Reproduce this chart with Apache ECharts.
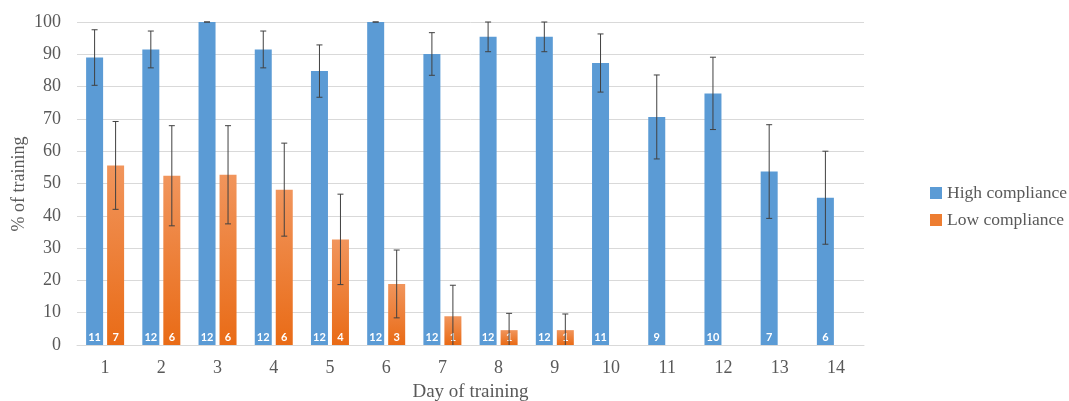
<!DOCTYPE html>
<html>
<head>
<meta charset="utf-8">
<script src="https://cdn.jsdelivr.net/npm/echarts@6/dist/echarts.min.js"></script>
<style>
html,body{margin:0;padding:0;background:#fff;}
#chart{width:1069px;height:401px;}
</style>
</head>
<body>
<div id="chart"></div>
<script>
var days = ['1','2','3','4','5','6','7','8','9','10','11','12','13','14'];
var highValues = [89.0, 91.5, 100, 91.5, 84.8, 100, 90.1, 95.4, 95.4, 87.3, 70.6, 77.9, 53.7, 45.6];
var highErrors = [8.6, 5.7, 0, 5.7, 8.1, 0, 6.6, 4.6, 4.6, 9.0, 13.0, 11.2, 14.5, 14.4];
var highN = [11, 12, 12, 12, 12, 12, 12, 12, 12, 11, 9, 10, 7, 6];
var lowValues = [55.6, 52.4, 52.7, 48.1, 32.7, 18.9, 8.9, 4.6, 4.6, null, null, null, null, null];
var lowErrors = [13.6, 15.5, 15.2, 14.4, 14.0, 10.5, 9.6, 5.2, 5.0, null, null, null, null, null];
var lowN = [7, 6, 6, 6, 4, 3, 1, 1, 1, null, null, null, null, null];
var yTicks = {min: 0, max: 100, interval: 10};
var yAxisTitle = '% of training';
var xAxisTitle = 'Day of training';

var BAR_W = 17, BAR_GAP = 4;
var OFFSET = (BAR_W + BAR_GAP) / 2;
var SERIF = '"Liberation Serif", "Times New Roman", serif';
var TXT = '#595959';

function errData(vals, errs) {
  var out = [];
  for (var i = 0; i < vals.length; i++) {
    if (vals[i] == null) continue;
    out.push([i, vals[i], errs[i]]);
  }
  return out;
}
function makeErr(dx) {
  return function (params, api) {
    var x = api.value(0), v = api.value(1), e = api.value(2);
    var hi = Math.min(yTicks.max, v + e), lo = Math.max(yTicks.min, v - e);
    var pHi = api.coord([x, hi]), pLo = api.coord([x, lo]);
    var cx = pHi[0] + dx, cap = 3;
    var style = {stroke: '#404040', lineWidth: 1};
    var children = [
      {type: 'line', shape: {x1: cx, y1: pHi[1], x2: cx, y2: pLo[1]}, style: style},
      {type: 'line', shape: {x1: cx - cap, y1: pHi[1], x2: cx + cap, y2: pHi[1]}, style: style}
    ];
    if (lo > yTicks.min) children.push({type: 'line', shape: {x1: cx - cap, y1: pLo[1], x2: cx + cap, y2: pLo[1]}, style: style});
    return {type: 'group', children: children};
  };
}
function countLabel(arr) {
  return {
    show: true, position: 'insideBottom', distance: 2,
    color: '#fff', fontWeight: 'bold', fontSize: 11, fontFamily: 'Lato, "Open Sans", sans-serif',
    formatter: function (p) { return arr[p.dataIndex] == null ? '' : String(arr[p.dataIndex]); }
  };
}

var chart = echarts.init(document.getElementById('chart'));
chart.setOption({
  animation: false,
  backgroundColor: '#fff',
  grid: {left: 77, right: 205, top: 22, bottom: 56, outerBoundsMode: 'none', containLabel: false},
  graphic: [{
    type: 'text', x: 19, y: 184, rotation: Math.PI / 2,
    style: {text: yAxisTitle, fill: TXT, font: '18px ' + SERIF, textAlign: 'center', textVerticalAlign: 'middle'}
  }],
  legend: {
    orient: 'vertical', left: 925, top: 179, itemWidth: 12, itemHeight: 12, itemGap: 9,
    icon: 'rect',
    data: [
      {name: 'High compliance', itemStyle: {color: '#5b9bd5'}},
      {name: 'Low compliance', itemStyle: {color: '#ed7d31'}}
    ],
    textStyle: {fontFamily: SERIF, fontSize: 17.5, color: TXT}
  },
  xAxis: {
    type: 'category', data: days,
    name: xAxisTitle, nameLocation: 'middle', nameGap: 38,
    nameTextStyle: {fontFamily: SERIF, fontSize: 19, color: TXT},
    axisLine: {lineStyle: {color: '#d9d9d9'}},
    axisTick: {show: false},
    axisLabel: {fontFamily: SERIF, fontSize: 18, color: TXT, margin: 14}
  },
  yAxis: {
    type: 'value', min: yTicks.min, max: yTicks.max, interval: yTicks.interval,
    axisLine: {show: false}, axisTick: {show: false},
    axisLabel: {fontFamily: SERIF, fontSize: 18, color: TXT, margin: 16},
    splitLine: {lineStyle: {color: '#d9d9d9'}}
  },
  series: [
    {
      name: 'High compliance', type: 'bar', data: highValues,
      barWidth: BAR_W, barGap: (BAR_GAP / BAR_W * 100) + '%',
      itemStyle: {color: '#5b9bd5'},
      label: countLabel(highN)
    },
    {
      name: 'Low compliance', type: 'bar', data: lowValues,
      barWidth: BAR_W,
      itemStyle: {color: new echarts.graphic.LinearGradient(0, 0, 0, 1, [
        {offset: 0, color: '#f1955c'}, {offset: 1, color: '#e96b16'}])},
      label: countLabel(lowN)
    },
    {
      type: 'custom', name: 'errHigh', data: errData(highValues, highErrors),
      renderItem: makeErr(-OFFSET), z: 10, silent: true
    },
    {
      type: 'custom', name: 'errLow', data: errData(lowValues, lowErrors),
      renderItem: makeErr(OFFSET), z: 10, silent: true
    }
  ]
});
</script>
</body>
</html>
